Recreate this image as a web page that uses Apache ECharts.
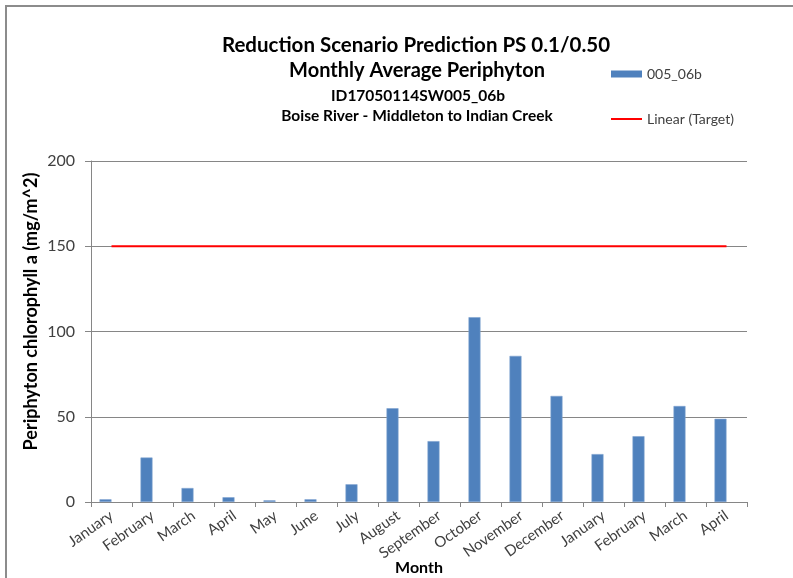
<!DOCTYPE html>
<html>
<head>
<meta charset="utf-8">
<script src="https://cdn.jsdelivr.net/npm/echarts@6/dist/echarts.min.js"></script>
<style>
  html, body { margin: 0; padding: 0; background: #fff; overflow: hidden; }
  #chart { width: 793px; height: 578px; }
</style>
</head>
<body>
<div id="chart"></div>
<script>
// Month labels along the x axis (two consecutive seasons)
const months = ['January', 'February', 'March', 'April', 'May', 'June', 'July', 'August',
  'September', 'October', 'November', 'December', 'January', 'February', 'March', 'April'];

// Monthly average periphyton chlorophyll a (mg/m^2) for site 005_06b
const periphyton = [1.6, 26.1, 8.2, 2.8, 1.0, 1.6, 10.4, 55.0,
  35.7, 108.4, 85.7, 62.2, 28.1, 38.6, 56.3, 48.8];

// Target level drawn as a flat line across all months
const targetLevel = 150;
const target = months.map(() => targetLevel);

// Y axis ticks
const yMin = 0, yMax = 200, yStep = 50;

const FONT = 'Lato, "Open Sans", sans-serif';
const chart = echarts.init(document.getElementById('chart'), null, { renderer: 'canvas' });

const titleStyle = (size) => ({ fontSize: size, fontWeight: 'bold', color: '#000', fontFamily: FONT });

chart.setOption({
  backgroundColor: '#ffffff',
  animation: false,
  textStyle: { fontFamily: FONT },
  title: [
    { text: 'Reduction Scenario Prediction PS 0.1/0.50', left: 411, top: 30, textAlign: 'center', textStyle: titleStyle(20.5) },
    { text: 'Monthly Average Periphyton', left: 412, top: 56, textAlign: 'center', textStyle: titleStyle(20) },
    { text: 'ID17050114SW005_06b', left: 413, top: 83, textAlign: 'center', textStyle: titleStyle(15.5) },
    { text: 'Boise River - Middleton to Indian Creek', left: 412, top: 103, textAlign: 'center', textStyle: titleStyle(15.5) }
  ],
  legend: [
    {
      left: 606,
      top: 62,
      itemWidth: 31,
      itemHeight: 7,
      itemGap: 0,
      itemStyle: { borderWidth: 0 },
      textStyle: { fontSize: 14, color: '#404040', fontFamily: FONT },
      data: [{ name: '005_06b', icon: 'rect' }]
    },
    {
      left: 606,
      top: 107,
      itemWidth: 31,
      itemHeight: 2,
      itemGap: 0,
      itemStyle: { borderWidth: 0 },
      textStyle: { fontSize: 14, color: '#404040', fontFamily: FONT },
      data: [{ name: 'Linear (Target)', icon: 'rect' }]
    }
  ],
  grid: { left: 91, right: 46, top: 161, bottom: 76, containLabel: false, outerBoundsMode: 'none' },
  xAxis: {
    type: 'category',
    data: months,
    name: 'Month',
    nameLocation: 'middle',
    nameGap: 58,
    nameMoveOverlap: false,
    nameTextStyle: { fontSize: 16, fontWeight: 'bold', color: '#000', fontFamily: FONT },
    axisLine: { lineStyle: { color: '#868686', width: 1 } },
    axisTick: { show: true, alignWithLabel: false, length: 5, lineStyle: { color: '#868686' } },
    axisLabel: { rotate: 35, interval: 0, fontSize: 15, color: '#404040', margin: 12, fontFamily: FONT }
  },
  yAxis: {
    type: 'value',
    min: yMin,
    max: yMax,
    interval: yStep,
    name: 'Periphyton chlorophyll a (mg/m^2)',
    nameLocation: 'middle',
    nameGap: 51,
    nameMoveOverlap: false,
    nameTextStyle: { fontSize: 18, fontWeight: 'bold', color: '#000', fontFamily: FONT, padding: [0, 0, 0, 40] },
    axisLine: { show: true, lineStyle: { color: '#868686', width: 1 } },
    axisTick: { show: true, length: 6, lineStyle: { color: '#868686' } },
    axisLabel: { fontSize: 16, color: '#404040', margin: 16, fontFamily: FONT },
    splitLine: { show: true, lineStyle: { color: '#868686', width: 1 } }
  },
  series: [
    {
      name: '005_06b',
      type: 'bar',
      data: periphyton,
      barWidth: 12,
      barGap: '0%',
      itemStyle: { color: '#4F81BD', borderColor: '#7FA3D0', borderWidth: 0.6 }
    },
    {
      // empty companion slot of the clustered column group
      name: 'slot',
      type: 'bar',
      data: months.map(() => null),
      barWidth: 12,
      barGap: '0%',
      silent: true
    },
    {
      name: 'Linear (Target)',
      type: 'line',
      data: target,
      symbol: 'none',
      lineStyle: { color: '#FF0000', width: 2 },
      itemStyle: { color: '#FF0000' },
      z: 5
    }
  ],
  graphic: [
    {
      type: 'rect',
      shape: { x: 6, y: 6, width: 800, height: 600 },
      style: { fill: 'none', stroke: '#8C8C8C', lineWidth: 2 },
      silent: true,
      z: -1
    }
  ]
});
</script>
</body>
</html>
